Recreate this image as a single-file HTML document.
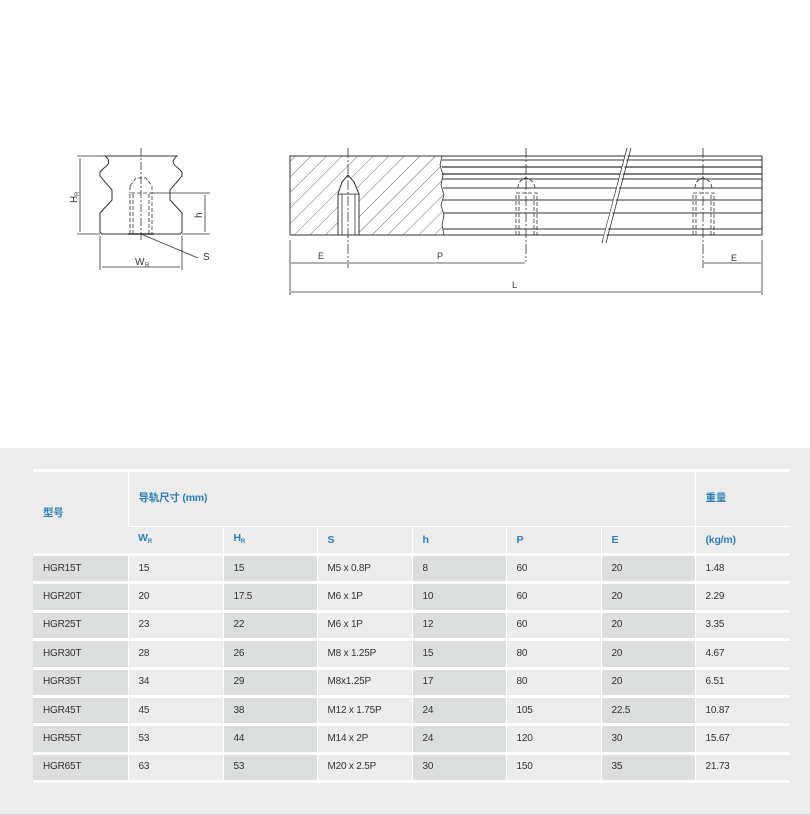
<!DOCTYPE html>
<html><head><meta charset="utf-8"><style>
body{margin:0;width:810px;height:815px;background:#fff;position:relative;overflow:hidden;font-family:"Liberation Sans","Noto Sans CJK SC",sans-serif}
svg{position:absolute;left:0;top:0}
.bg{position:absolute;left:0;top:448px;width:810px;height:367px;background:#ececec;border-bottom:1px solid #d8d8d8;box-sizing:border-box}
table{position:absolute;left:33px;top:469px;border-collapse:collapse;table-layout:fixed;width:757px}
td{padding:0 0 0 10px;font-size:10px;color:#333;border-left:1.5px solid #fff;border-top:3px solid #fff;background:#ececec;height:25.4px;letter-spacing:-0.2px;line-height:12px}
td:first-child{border-left:none}
.d{background:#dcdddd}
.h{color:#2f7fb5;font-weight:bold;font-size:10.5px}
tr.last td{border-bottom:3px solid #fff}
sub{font-size:6px;vertical-align:-2px}
</style></head><body>
<svg width="810" height="448" viewBox="0 0 810 448" font-family="Liberation Sans,sans-serif" font-size="9" fill="none" stroke="#333" stroke-width="0.8">
<defs>
<pattern id="hat" width="11" height="11" patternUnits="userSpaceOnUse" patternTransform="rotate(45)">
<line x1="0" y1="0" x2="0" y2="11" stroke="#444" stroke-width="0.8"/>
</pattern>
<clipPath id="hc"><path d="M290,156 L442,156 L440,165 L443,175 L441,185 L444,195 L441,205 L444,215 L442,225 L444,235 L290,235 Z"/></clipPath>
</defs>
<!-- left profile -->
<path d="M105,156 Q113,162 104,168 L100,172 L100,176 L112,190 L112,200 L100,213 L100,232 L102,234 L180,234 L182,232 L182,213 L170,200 L170,190 L182,176 L182,172 L178,168 Q169,162 177,156 Z" stroke-width="1"/>
<line x1="77" y1="156" x2="105" y2="156"/>
<line x1="77" y1="234" x2="100" y2="234"/>
<line x1="182" y1="234" x2="210" y2="234"/>
<line x1="152" y1="193" x2="210" y2="193"/>
<line x1="80" y1="158" x2="80" y2="232"/>
<line x1="205" y1="195" x2="205" y2="232"/>
<line x1="100" y1="236" x2="100" y2="270"/><line x1="182" y1="236" x2="182" y2="270"/>
<line x1="102" y1="267" x2="180" y2="267"/>
<line x1="141" y1="148" x2="141" y2="240" stroke-dasharray="8,2,2,2"/>
<path d="M130,234 L130,193 L152,193 L152,234 M133,234 L133,193 M149,234 L149,193 M130,186 L136,178 L146,178 L152,186 L152,193 M130,186 L130,193" stroke-dasharray="4,2"/>
<line x1="128" y1="234" x2="154" y2="234" stroke-width="1.5"/>
<line x1="141" y1="234" x2="198" y2="258"/>
<g fill="#333" stroke="none" font-size="10">
<text x="65" y="201" transform="rotate(-90 72 196)">H</text><text x="72" y="203" font-size="6" transform="rotate(-90 72 196)">R</text>
<text x="194" y="218" transform="rotate(-90 198 214)">h</text>
<text x="135" y="265">W</text><text x="145" y="267" font-size="6">R</text>
<text x="203" y="260">S</text>
</g>
<!-- right rail -->
<rect x="290" y="156" width="472" height="79" stroke-width="1"/>
<rect x="290" y="156" width="160" height="79" fill="url(#hat)" stroke="none" clip-path="url(#hc)"/>
<path d="M442,156 L440,165 L443,175 L441,185 L444,195 L441,205 L444,215 L442,225 L444,235"/>
<g stroke-width="0.9">
<line x1="442" y1="160" x2="762" y2="160"/><line x1="442" y1="167" x2="762" y2="167" stroke-width="1.3"/>
<line x1="442" y1="174" x2="762" y2="174" stroke-width="1.3"/><line x1="442" y1="179" x2="762" y2="179"/>
<line x1="443" y1="188" x2="762" y2="188"/><line x1="443" y1="200" x2="762" y2="200"/>
<line x1="443" y1="213" x2="762" y2="213"/><line x1="443" y1="229" x2="762" y2="229"/>
</g>
<rect x="338" y="194" width="21" height="41" fill="#fff" stroke-width="1"/>
<path d="M338,194 L342,182 L348,175 L354,182 L359,194" fill="#fff" stroke-width="1"/>
<path d="M338,194 L359,194 M342,194 L342,235 M355,194 L355,235"/>
<g stroke-dasharray="4,2">
<path d="M516,235 L516,193 L537,193 L537,235 M519,235 L519,193 M534,235 L534,193 M518,188 Q518,180 526,178 Q534,180 535,188"/>
<path d="M693,235 L693,193 L714,193 L714,235 M696,235 L696,193 M711,235 L711,193 M695,188 Q695,180 703,178 Q711,180 712,188"/>
</g>
<g stroke-dasharray="10,2,2,2">
<line x1="348" y1="148" x2="348" y2="268"/><line x1="526" y1="148" x2="526" y2="262"/><line x1="703" y1="148" x2="703" y2="268"/>
</g>
<path d="M602,243 L627,148 M606,243 L631,148" stroke="#333"/>
<line x1="604" y1="240" x2="628" y2="150" stroke="#fff" stroke-width="2"/>
<line x1="290" y1="240" x2="290" y2="295"/><line x1="762" y1="240" x2="762" y2="295"/>
<line x1="291" y1="263" x2="347" y2="263"/><line x1="349" y1="263" x2="525" y2="263"/><line x1="704" y1="263" x2="761" y2="263"/>
<line x1="291" y1="292" x2="761" y2="292"/>
<g fill="#333" stroke="none" font-size="9">
<text x="318" y="259">E</text><text x="437" y="259">P</text><text x="731" y="261">E</text><text x="512" y="288">L</text>
</g>
</svg>
<div class="bg"></div>
<table>
<colgroup><col style="width:95px"><col style="width:95px"><col style="width:94px"><col style="width:95px"><col style="width:94px"><col style="width:95px"><col style="width:94px"><col style="width:95px"></colgroup>
<tr><td rowspan="2" class="h" style="height:30px">型号</td><td colspan="6" class="h" style="height:34px;vertical-align:top;padding-top:20px">导轨尺寸 (mm)</td><td class="h" style="vertical-align:top;padding-top:20px">重量</td></tr>
<tr><td class="h" style="border-top-width:1px;height:26px">W<sub>R</sub></td><td class="h" style="border-top-width:1px">H<sub>R</sub></td><td class="h" style="border-top-width:1px">S</td><td class="h" style="border-top-width:1px">h</td><td class="h" style="border-top-width:1px">P</td><td class="h" style="border-top-width:1px">E</td><td class="h" style="border-top-width:1px">(kg/m)</td></tr>
<tr><td class="d">HGR15T</td><td>15</td><td class="d">15</td><td>M5 x 0.8P</td><td class="d">8</td><td>60</td><td class="d">20</td><td>1.48</td></tr>
<tr><td class="d">HGR20T</td><td>20</td><td class="d">17.5</td><td>M6 x 1P</td><td class="d">10</td><td>60</td><td class="d">20</td><td>2.29</td></tr>
<tr><td class="d">HGR25T</td><td>23</td><td class="d">22</td><td>M6 x 1P</td><td class="d">12</td><td>60</td><td class="d">20</td><td>3.35</td></tr>
<tr><td class="d">HGR30T</td><td>28</td><td class="d">26</td><td>M8 x 1.25P</td><td class="d">15</td><td>80</td><td class="d">20</td><td>4.67</td></tr>
<tr><td class="d">HGR35T</td><td>34</td><td class="d">29</td><td>M8x1.25P</td><td class="d">17</td><td>80</td><td class="d">20</td><td>6.51</td></tr>
<tr><td class="d">HGR45T</td><td>45</td><td class="d">38</td><td>M12 x 1.75P</td><td class="d">24</td><td>105</td><td class="d">22.5</td><td>10.87</td></tr>
<tr><td class="d">HGR55T</td><td>53</td><td class="d">44</td><td>M14 x 2P</td><td class="d">24</td><td>120</td><td class="d">30</td><td>15.67</td></tr>
<tr class="last"><td class="d">HGR65T</td><td>63</td><td class="d">53</td><td>M20 x 2.5P</td><td class="d">30</td><td>150</td><td class="d">35</td><td>21.73</td></tr>
</table>
</body></html>
